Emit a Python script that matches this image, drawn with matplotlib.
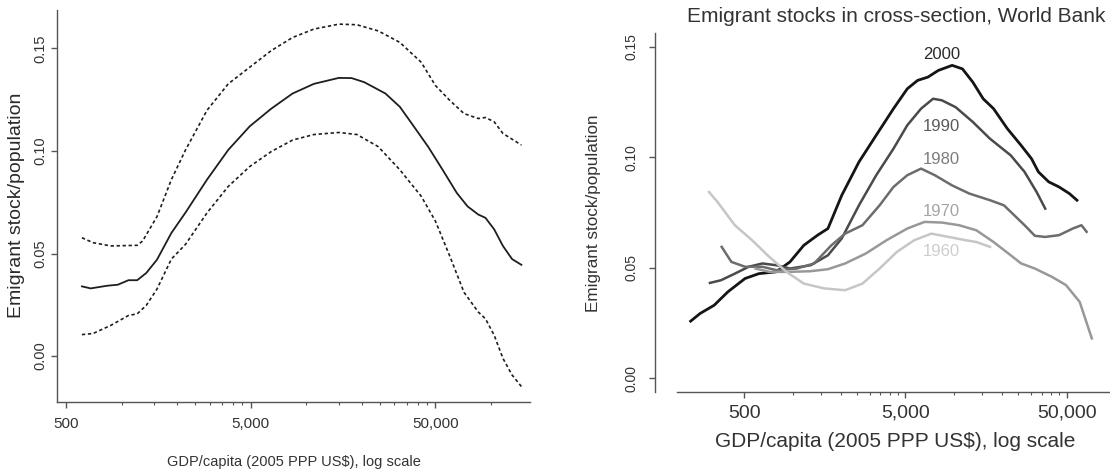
import matplotlib
matplotlib.use("Agg")
import matplotlib.pyplot as plt
from matplotlib.ticker import FixedLocator, NullFormatter

# ------------------------------------------------------------
# Datos: panel izquierdo (ajuste y bandas de confianza)
# ------------------------------------------------------------
fit_x = [610, 680, 835, 955, 1090, 1215, 1360, 1555, 1860, 2220, 2900, 3780,
         4940, 6460, 8430, 11000, 15000, 17600, 20600, 26800, 32100, 38300,
         45700, 54700, 65300, 74600, 85300, 93300, 104000, 116000, 130000, 146000]
fit_y = [0.034, 0.033, 0.0343, 0.0348, 0.037, 0.037, 0.0405, 0.047, 0.060, 0.070,
         0.086, 0.1005, 0.112, 0.1206, 0.128, 0.1327, 0.1356, 0.1355, 0.1335, 0.128,
         0.1215, 0.1118, 0.102, 0.0908, 0.0795, 0.073, 0.069, 0.0674, 0.0618,
         0.0537, 0.0473, 0.0445]

upper_x = [610, 700, 875, 1215, 1300, 1555, 1860, 2220, 2900, 3780, 4940, 6460,
           8430, 11000, 15000, 18800, 24500, 32100, 41900, 50000, 59700, 71400,
           85300, 93300, 104000, 116000, 146000]
upper_y = [0.0577, 0.0553, 0.0537, 0.054, 0.0561, 0.068, 0.086, 0.1005, 0.1198,
           0.1327, 0.1408, 0.1489, 0.1553, 0.1594, 0.1618, 0.1615, 0.1585, 0.1529,
           0.1432, 0.1319, 0.1247, 0.1182, 0.1158, 0.1163, 0.1142, 0.1085, 0.1029]

lower_x = [610, 700, 875, 1090, 1215, 1360, 1555, 1860, 2220, 2900, 3780, 4940,
           6460, 8430, 11000, 15000, 18800, 24500, 32100, 41900, 50000, 59700,
           71400, 85300, 93300, 104000, 116000, 130000, 146000]
lower_y = [0.0105, 0.011, 0.015, 0.0198, 0.0206, 0.0247, 0.0327, 0.0473, 0.0545,
           0.0698, 0.0827, 0.0924, 0.0997, 0.1053, 0.108, 0.109, 0.108, 0.1021,
           0.0908, 0.0779, 0.0658, 0.0489, 0.0311, 0.0215, 0.0182, 0.0102,
           -0.0011, -0.0092, -0.0148]

# ------------------------------------------------------------
# Datos: panel derecho (cortes transversales por año)
# ------------------------------------------------------------
years = ["2000", "1990", "1980", "1970", "1960"]

x2000 = [233, 267, 326, 397, 507, 618, 790, 962, 1172, 1428, 1655, 2015, 2577,
         3297, 4218, 5137, 5955, 6903, 8000, 9746, 11298, 13097, 15182, 17614,
         21428, 26106, 30269, 33420, 38726, 44875, 52000, 57943]
y2000 = [0.0259, 0.0294, 0.0331, 0.0392, 0.0452, 0.0474, 0.0482, 0.0527, 0.0602,
         0.0648, 0.0678, 0.0828, 0.0979, 0.110, 0.122, 0.131, 0.1348, 0.1363,
         0.1393, 0.1416, 0.140, 0.134, 0.1265, 0.122, 0.113, 0.1054, 0.0994,
         0.0934, 0.0889, 0.0866, 0.0836, 0.0806]

x1990 = [307, 359, 438, 533, 649, 790, 962, 1293, 1655, 2015, 2577, 3297, 4218,
         5137, 6252, 7428, 8409, 10240, 13097, 16749, 22500, 27420, 32577, 36830]
y1990 = [0.0432, 0.0444, 0.0474, 0.0505, 0.052, 0.0512, 0.0497, 0.0512, 0.0557,
         0.0633, 0.0783, 0.0919, 0.1039, 0.1145, 0.122, 0.1265, 0.1258, 0.1227,
         0.116, 0.1084, 0.1009, 0.0934, 0.0843, 0.0768]

x1980 = [363, 417, 507, 649, 790, 1062, 1359, 1738, 2117, 2710, 3461, 4218, 5137,
         6252, 7619, 9746, 12470, 16749, 20418, 23660, 27420, 31770, 36830, 44875,
         54600, 61800, 66500]
y1980 = [0.0595, 0.0527, 0.0505, 0.0505, 0.049, 0.0497, 0.052, 0.0602, 0.0655,
         0.0693, 0.0783, 0.0866, 0.0919, 0.0949, 0.0919, 0.0873, 0.0836, 0.0806,
         0.0783, 0.0738, 0.0693, 0.0645, 0.064, 0.0648, 0.0678, 0.0693, 0.0663]

x1970 = [589, 716, 962, 1293, 1655, 2117, 2843, 3819, 5137, 6577, 8409, 10765,
         13770, 17614, 22500, 26106, 31770, 40644, 49545, 60256, 71620]
y1970 = [0.0497, 0.0482, 0.0482, 0.0485, 0.0494, 0.052, 0.0565, 0.0625, 0.0678,
         0.0708, 0.0705, 0.0693, 0.067, 0.0617, 0.0557, 0.052, 0.0497, 0.0459,
         0.0422, 0.0346, 0.0181]

x1960 = [303, 342, 438, 560, 716, 916, 1172, 1574, 2117, 2710, 3461, 4426, 5670,
         7244, 9270, 11858, 13770, 16749]
y1960 = [0.0843, 0.0798, 0.0693, 0.0625, 0.055, 0.0482, 0.0429, 0.0407, 0.0399,
         0.0429, 0.0497, 0.0572, 0.0625, 0.0655, 0.064, 0.0625, 0.0617, 0.0595]

label_y = [0.1467, 0.1138, 0.0988, 0.0757, 0.0576]
label_x = 8360

x_ticks = [500, 5000, 50000]
x_ticklabels = ["500", "5,000", "50,000"]
x_minor = [1000, 1500, 2000, 2500, 3000, 3500, 4000, 4500,
           10000, 15000, 20000, 25000, 30000, 35000, 40000, 45000, 100000]
y_ticks = [0.00, 0.05, 0.10, 0.15]
y_ticklabels = ["0.00", "0.05", "0.10", "0.15"]

XLABEL = "GDP/capita (2005 PPP US$), log scale"
YLABEL = "Emigrant stock/population"
TITLE = "Emigrant stocks in cross-section, World Bank"

SANS = ["Liberation Sans", "DejaVu Sans"]
AXCOL = "#555555"

plt.rcParams["font.family"] = SANS


def style_axes(ax):
    ax.set_xscale("log")
    for s in ["top", "right"]:
        ax.spines[s].set_visible(False)
    for s in ["left", "bottom"]:
        ax.spines[s].set_color(AXCOL)
        ax.spines[s].set_linewidth(1.0)
    ax.xaxis.set_major_locator(FixedLocator(x_ticks))
    ax.xaxis.set_minor_locator(FixedLocator(x_minor))
    ax.xaxis.set_minor_formatter(NullFormatter())
    ax.set_yticks(y_ticks)
    ax.yaxis.set_minor_locator(FixedLocator([]))
    ax.tick_params(which="major", direction="out", length=4.5, width=1.0, color=AXCOL)
    ax.tick_params(which="minor", direction="out", length=2.5, width=0.8, color=AXCOL)


fig = plt.figure(figsize=(11.1, 4.73), dpi=100)

# ------------------------------------------------------------
# Panel izquierdo
# ------------------------------------------------------------
ax1 = fig.add_axes([0.051, 0.1495, 0.4265, 0.8294])
style_axes(ax1)
ax1.set_xlim(445, 162600)
ax1.set_ylim(-0.0225, 0.1687)

ax1.plot(fit_x, fit_y, color="#1e1e1e", lw=1.3, solid_joinstyle="round")
ax1.plot(upper_x, upper_y, color="#1e1e1e", lw=1.2, dashes=(2.0, 1.6))
ax1.plot(lower_x, lower_y, color="#1e1e1e", lw=1.2, dashes=(2.0, 1.6))

# en el original el texto del eje x es estrecho
ax1.set_xticklabels(x_ticklabels, fontsize=11, color="#333333")
ax1.set_yticklabels(y_ticklabels, fontsize=10.5, rotation=90, va="center",
                    color="#333333")
ax1.tick_params(axis="x", which="major", pad=6)
ax1.tick_params(axis="y", which="major", pad=2.5)

ax1.set_xlabel(XLABEL, fontsize=10.5, color="#333333", va="center")
ax1.xaxis.set_label_coords(0.5004, -0.1522)
ax1.set_ylabel(YLABEL, fontsize=14, color="#2a2a2a", va="center")
ax1.yaxis.set_label_coords(-0.0837, 0.5017)

# ------------------------------------------------------------
# Panel derecho
# ------------------------------------------------------------
ax2 = fig.add_axes([0.5905, 0.1719, 0.4085, 0.7577])
style_axes(ax2)
ax2.set_xlim(141, 91400)
ax2.set_ylim(-0.006, 0.1561)
ax2.spines["bottom"].set_bounds(192, 91400)

series = [(x2000, y2000, "#151515", 2.0),
          (x1990, y1990, "#4a4a4a", 1.8),
          (x1980, y1980, "#6c6c6c", 1.8),
          (x1970, y1970, "#989898", 1.8),
          (x1960, y1960, "#c6c6c6", 1.8)]
label_cols = ["#2a2a2a", "#5a5a5a", "#7c7c7c", "#a4a4a4", "#cdcdcd"]

for (xs, ys, col, lw), yr, ly, lc in zip(series, years, label_y, label_cols):
    ax2.plot(xs, ys, color=col, lw=lw, solid_joinstyle="round")
    ax2.text(label_x, ly, yr, fontsize=12, color=lc, ha="center", va="center")

ax2.set_xticklabels(x_ticklabels, fontsize=14, color="#333333")
ax2.set_yticklabels(y_ticklabels, fontsize=10, rotation=90, va="center",
                    color="#333333")
ax2.tick_params(axis="x", which="major", pad=5)
ax2.tick_params(axis="y", which="major", pad=8)

ax2.set_xlabel(XLABEL, fontsize=15, color="#333333", va="center")
ax2.xaxis.set_label_coords(0.529, -0.1395)
ax2.set_ylabel(YLABEL, fontsize=12.3, color="#333333", va="center")
ax2.yaxis.set_label_coords(-0.1369, 0.497)
ax2.text(0.531, 1.046, TITLE, transform=ax2.transAxes, fontsize=15,
         color="#333333", ha="center", va="center")

fig.savefig("out.png", dpi=100)
